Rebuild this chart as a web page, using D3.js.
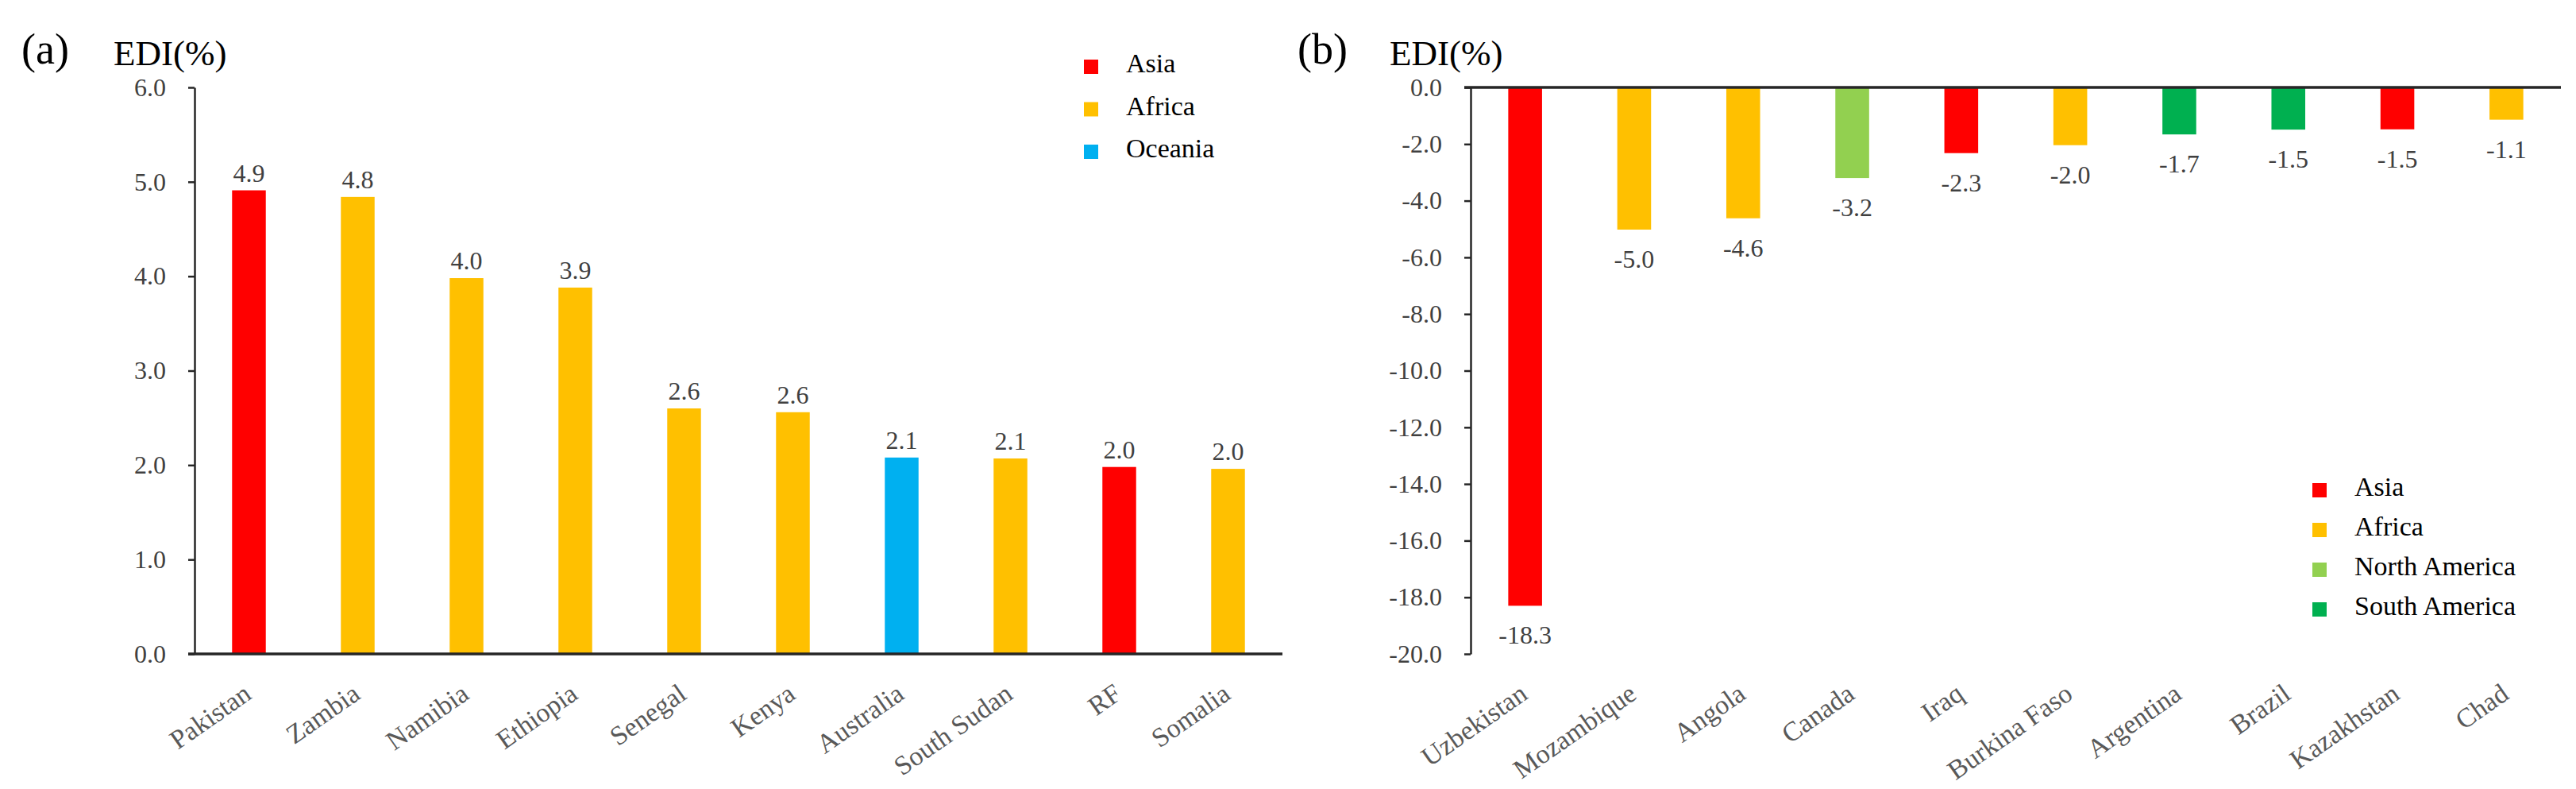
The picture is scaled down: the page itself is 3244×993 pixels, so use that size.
<!DOCTYPE html>
<html>
<head>
<meta charset="utf-8">
<script src="https://cdn.jsdelivr.net/npm/d3@7"></script>
<style>
  body { margin: 0; background: #fff; }
  text { font-family: "Liberation Serif", "Times New Roman", serif; }
</style>
</head>
<body>
<div id="chart"></div>
<script>
const WIDTH = 3244;
const HEIGHT = 993;

// panel (a): positive EDI
const countriesA = ['Pakistan', 'Zambia', 'Namibia', 'Ethiopia', 'Senegal', 'Kenya', 'Australia', 'South Sudan', 'RF', 'Somalia'];
const ediA = [4.91, 4.84, 3.98, 3.88, 2.6, 2.56, 2.08, 2.07, 1.98, 1.96];
const regionA = ['Asia', 'Africa', 'Africa', 'Africa', 'Africa', 'Africa', 'Oceania', 'Africa', 'Asia', 'Africa'];
const ticksA = [0, 1, 2, 3, 4, 5, 6];
const legendA = ['Asia', 'Africa', 'Oceania'];

// panel (b): negative EDI
const countriesB = ['Uzbekistan', 'Mozambique', 'Angola', 'Canada', 'Iraq', 'Burkina Faso', 'Argentina', 'Brazil', 'Kazakhstan', 'Chad'];
const ediB = [-18.3, -5.02, -4.62, -3.2, -2.32, -2.04, -1.66, -1.49, -1.48, -1.14];
const regionB = ['Asia', 'Africa', 'Africa', 'North America', 'Asia', 'Africa', 'South America', 'South America', 'Asia', 'Africa'];
const ticksB = [0, -2, -4, -6, -8, -10, -12, -14, -16, -18, -20];
const legendB = ['Asia', 'Africa', 'North America', 'South America'];

const regionColor = d3.scaleOrdinal()
  .domain(['Asia', 'Africa', 'Oceania', 'North America', 'South America'])
  .range(['#ff0000', '#ffc000', '#00b0f0', '#92d050', '#00b050']);

const svg = d3.select('#chart')
  .append('svg')
  .attr('width', WIDTH)
  .attr('height', HEIGHT)

const TOP = 110;
const BOTTOM = 823;

function drawPanel(p) {
  const g = svg.append('g')

  const x = d3.scaleBand()
    .domain(p.countries)
    .range([p.left, p.right])
    .paddingInner(0.69)
    .paddingOuter(0.345)

  const y = d3.scaleLinear()
    .domain(p.domain)
    .range([BOTTOM, TOP])

  // y axis
  const yAxis = g.append('g')
    .attr('transform', `translate(${p.left},0)`)
    .call(d3.axisLeft(y)
      .tickValues(p.ticks)
      .tickSize(8)
      .tickSizeOuter(0)
      .tickPadding(28)
      .tickFormat(d => d.toFixed(1)))
  yAxis.select('.domain').attr('stroke', '#262626').attr('stroke-width', 2.5)
  yAxis.selectAll('.tick line').attr('stroke', '#262626').attr('stroke-width', 2.5)
  yAxis.selectAll('.tick text')
    .attr('font-size', 32)
    .attr('fill', '#404040')
    .attr('font-family', '"Liberation Serif", serif')

  // bars
  g.selectAll('rect.bar')
    .data(p.values)
    .join('rect')
    .attr('class', 'bar')
    .attr('x', (_, i) => x(p.countries[i]))
    .attr('width', x.bandwidth())
    .attr('y', d => y(Math.max(0, d)))
    .attr('height', d => Math.abs(y(d) - y(0)))
    .attr('fill', (_, i) => regionColor(p.regions[i]))

  // zero line
  g.append('line')
    .attr('x1', p.left - 8)
    .attr('x2', p.right)
    .attr('y1', y(0))
    .attr('y2', y(0))
    .attr('stroke', '#262626')
    .attr('stroke-width', 3.5)

  // value labels
  g.selectAll('text.val')
    .data(p.values)
    .join('text')
    .attr('class', 'val')
    .attr('x', (_, i) => x(p.countries[i]) + x.bandwidth() / 2)
    .attr('y', d => d >= 0 ? y(d) - 11 : y(d) + 48)
    .attr('text-anchor', 'middle')
    .attr('font-size', 32)
    .attr('fill', '#404040')
    .text(d => d.toFixed(1))

  // category labels
  const xAxis = g.append('g')
    .attr('transform', `translate(0,${BOTTOM})`)
    .call(d3.axisBottom(x).tickSize(0))
  xAxis.select('.domain').remove()
  xAxis.selectAll('.tick text')
    .attr('x', 0)
    .attr('y', 0)
    .attr('dy', 0)
    .attr('text-anchor', 'end')
    .attr('transform', 'translate(5,55) rotate(-35)')
    .attr('font-size', 34)
    .attr('fill', '#595959')
    .attr('font-family', '"Liberation Serif", serif')

  // panel letter and unit
  g.append('text')
    .attr('x', p.left - 218)
    .attr('y', 80)
    .attr('font-size', 54)
    .attr('fill', '#000')
    .text(p.letter)
  g.append('text')
    .attr('x', p.left - 102)
    .attr('y', 82)
    .attr('font-size', 45)
    .attr('fill', '#000')
    .text('EDI(%)')

  // legend
  const leg = g.selectAll('g.leg')
    .data(p.legend)
    .join('g')
    .attr('class', 'leg')
    .attr('transform', (_, i) => `translate(${p.legX},${p.legY + i * p.legStep})`)
  leg.append('rect')
    .attr('width', 18)
    .attr('height', 18)
    .attr('fill', d => regionColor(d))
  leg.append('text')
    .attr('x', 53)
    .attr('y', 16)
    .attr('font-size', 34)
    .attr('fill', '#000')
    .text(d => d)
}

drawPanel({
  countries: countriesA, values: ediA, regions: regionA, ticks: ticksA,
  domain: [0, 6], left: 245, right: 1615, letter: '(a)',
  legend: legendA, legX: 1365, legY: 75, legStep: 53.5
})

drawPanel({
  countries: countriesB, values: ediB, regions: regionB, ticks: ticksB,
  domain: [-20, 0], left: 1852, right: 3225, letter: '(b)',
  legend: legendB, legX: 2912, legY: 608, legStep: 50
})
</script>
</body>
</html>
